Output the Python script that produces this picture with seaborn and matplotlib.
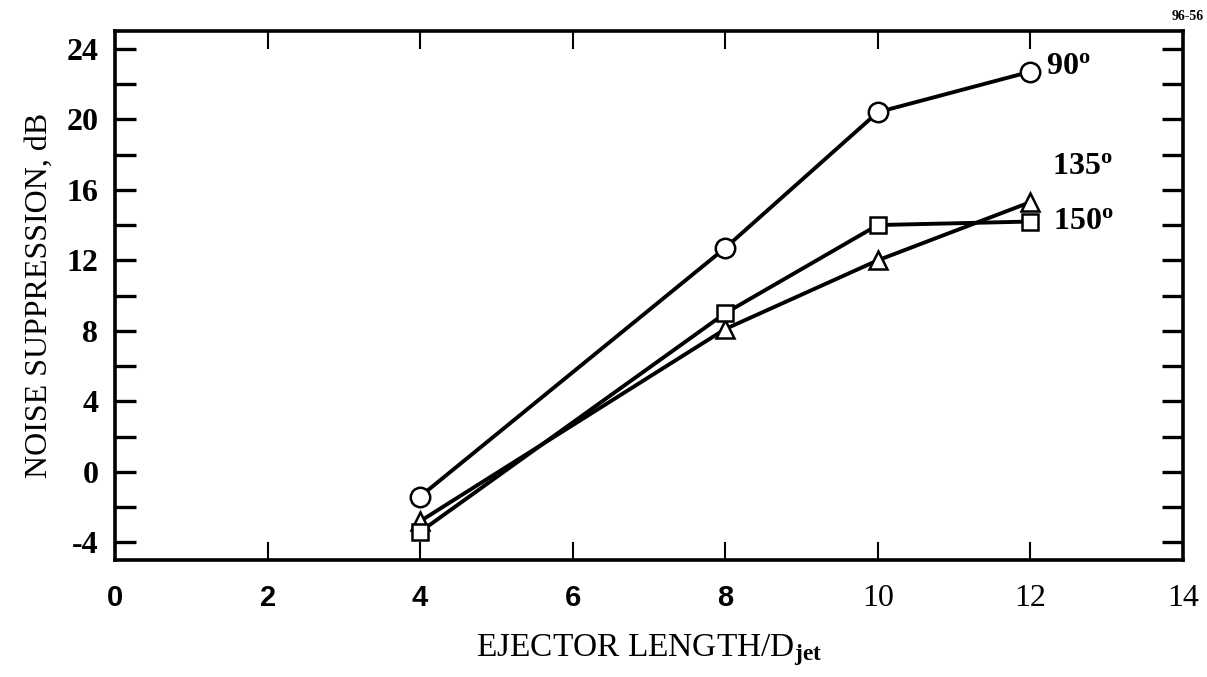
import matplotlib
matplotlib.use("Agg")
import matplotlib.pyplot as plt
import seaborn as sns
import pandas as pd
from matplotlib.ticker import MultipleLocator

# ---- data ----
ejector_length = [4, 8, 10, 12]
angle_90 = [-1.4, 12.7, 20.4, 22.7]
angle_135 = [-2.8, 8.1, 12.0, 15.3]
angle_150 = [-3.4, 9.0, 14.0, 14.2]
series_names = ["90", "135", "150"]
series_markers = {"90": "o", "135": "^", "150": "s"}
x_ticks = [0, 2, 4, 6, 8, 10, 12, 14]
y_ticks = [-4, 0, 4, 8, 12, 16, 20, 24]

df = pd.DataFrame({
    "length": ejector_length * 3,
    "suppression": angle_90 + angle_135 + angle_150,
    "angle": [s for s in series_names for _ in ejector_length],
})

sns.set_theme(style="white")
plt.rcParams["font.family"] = ["Liberation Serif", "DejaVu Serif"]
plt.rcParams["mathtext.fontset"] = "custom"
plt.rcParams["mathtext.rm"] = "Liberation Serif"
plt.rcParams["mathtext.bf"] = "Liberation Serif:bold"
plt.rcParams["mathtext.it"] = "Liberation Serif:italic"
plt.rcParams["axes.unicode_minus"] = False
for key in ["text.color", "axes.labelcolor", "xtick.color", "ytick.color", "axes.edgecolor"]:
    plt.rcParams[key] = "black"

fig = plt.figure(figsize=(12.07, 6.77), dpi=100)
ax = fig.add_axes([0.0953, 0.1728, 0.8847, 0.7812])

sizes = {"90": 14, "135": 13, "150": 12}
for name in series_names:
    sub = df[df["angle"] == name]
    sns.lineplot(data=sub, x="length", y="suppression", ax=ax,
                 color="black", linewidth=2.8, marker=series_markers[name],
                 markersize=sizes[name], markerfacecolor="white",
                 markeredgecolor="black", markeredgewidth=1.8,
                 legend=False)

ax.set_xlim(0, 14)
ax.set_ylim(-5, 25)
ax.set_xticks(x_ticks)
ax.set_yticks(y_ticks)
ax.yaxis.set_minor_locator(MultipleLocator(2))

for s in ax.spines.values():
    s.set_linewidth(2.6)
    s.set_color("black")

ax.tick_params(axis="y", which="both", direction="in", left=True, right=True,
               length=15, width=2.4, pad=12, labelsize=23, color="black")
ax.tick_params(axis="x", which="both", direction="in", bottom=True, top=True,
               length=13, width=1.5, pad=17, labelsize=23, color="black")

for lab in ax.get_yticklabels():
    lab.set_fontweight("bold")
for lab in ax.get_xticklabels():
    if lab.get_text() in ("0", "2", "4", "6", "8"):
        lab.set_fontfamily(["Liberation Sans", "DejaVu Sans"])
        lab.set_fontweight("bold")
        lab.set_fontsize(21)

ax.set_xlabel(r"EJECTOR LENGTH/D$_{\mathbf{jet}}$", fontsize=24, labelpad=14)
ax.set_ylabel("NOISE SUPPRESSION, dB", fontsize=23, labelpad=9)

lab_kw = dict(fontsize=23, fontweight="bold", ha="left", va="center")
ax.text(12.21, 23.0, r"90$^{\mathbf{o}}$", **lab_kw)
ax.text(12.28, 17.3, r"135$^{\mathbf{o}}$", **lab_kw)
ax.text(12.30, 14.2, r"150$^{\mathbf{o}}$", **lab_kw)

fig.text(0.9975, 0.975, "96-56", fontsize=10, fontweight="bold",
         ha="right", va="center")

fig.savefig("out.png", dpi=100, facecolor="white")
